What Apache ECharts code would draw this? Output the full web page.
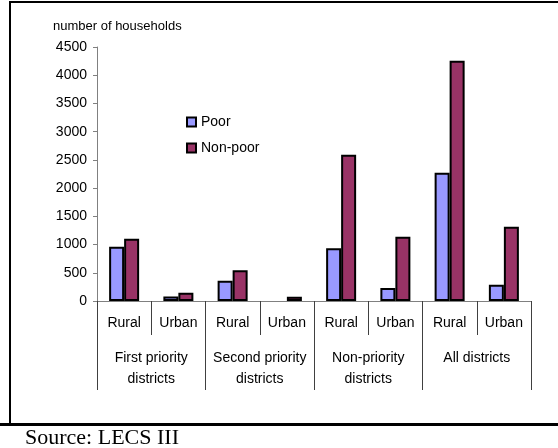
<!DOCTYPE html>
<html lang="en">
<head>
<meta charset="UTF-8">
<title>households</title>
<script src="https://cdn.jsdelivr.net/npm/echarts@6/dist/echarts.min.js"></script>
<style>
html,body{margin:0;padding:0;background:#fff;}
#chartBox{width:558px;height:448px;}
</style>
</head>
<body>
<div id="chartBox"></div>
<script>
// data
var areaLabels = ['Rural', 'Urban', 'Rural', 'Urban', 'Rural', 'Urban', 'Rural', 'Urban'];
var groupLabels = ['First priority\ndistricts', 'Second priority\ndistricts', 'Non-priority\ndistricts', 'All districts'];
var poorValues = [962, 80, 360, null, 934, 230, 2273, 289];
var nonPoorValues = [1104, 147, 544, 75, 2592, 1139, 4258, 1316];
var yTicks = [0, 4500, 500];

var FONT = 'Liberation Sans, Arial, sans-serif';

let chartObj = echarts.init(document.getElementById('chartBox'));

let option = {
    animation: false,
    grid: {left: 97, top: 47, right: 27, bottom: 147},
    legend: {
        orient: 'vertical',
        left: 181,
        top: 110,
        itemWidth: 9,
        itemHeight: 9,
        itemGap: 12,
        icon: 'rect',
        textStyle: {fontSize: 14, fontFamily: FONT, color: '#000'},
        data: ['Poor', 'Non-poor']
    },
    xAxis: [
        {
            type: 'category',
            data: areaLabels,
            axisLine: {lineStyle: {color: '#808080', width: 1}},
            axisTick: {show: true, interval: 0, length: 34, lineStyle: {color: '#404040'}},
            axisLabel: {interval: 0, margin: 15, fontSize: 14, fontFamily: FONT, color: '#000'}
        },
        {
            type: 'category',
            data: groupLabels,
            position: 'bottom',
            axisLine: {lineStyle: {color: '#808080', width: 1}},
            axisTick: {show: true, interval: 0, length: 89, lineStyle: {color: '#404040'}},
            axisLabel: {interval: 0, margin: 47, fontSize: 14, lineHeight: 21, fontFamily: FONT, color: '#000'}
        }
    ],
    yAxis: {
        type: 'value',
        min: yTicks[0],
        max: yTicks[1],
        interval: yTicks[2],
        splitLine: {show: false},
        axisLine: {show: true, lineStyle: {color: '#808080'}},
        axisTick: {show: true, length: 4, lineStyle: {color: '#808080'}},
        axisLabel: {
            margin: 10, fontSize: 14, fontFamily: FONT, color: '#000',
            formatter: function (v) { return String(v); }
        }
    },
    series: [
        {
            type: 'bar',
            name: 'Poor',
            xAxisIndex: 0,
            barWidth: 15,
            barGap: '0%',
            itemStyle: {color: '#9999FF', borderColor: '#000', borderWidth: 2},
            data: poorValues
        },
        {
            type: 'bar',
            name: 'Non-poor',
            xAxisIndex: 0,
            barWidth: 15,
            barGap: '0%',
            itemStyle: {color: '#993366', borderColor: '#000', borderWidth: 2},
            data: nonPoorValues
        }
    ],
    graphic: [
        // frame lines
        {type: 'rect', shape: {x: 9, y: 1, width: 549, height: 2}, style: {fill: '#000'}},
        {type: 'rect', shape: {x: 9, y: 1, width: 2, height: 424}, style: {fill: '#000'}},
        {type: 'rect', shape: {x: 0, y: 423, width: 558, height: 3}, style: {fill: '#000'}},
        // axis title
        {type: 'text', left: 53, top: 20, style: {text: 'number of households', font: '13px ' + FONT, fill: '#000'}},
        // source note
        {type: 'text', left: 25, top: 427, style: {text: 'Source: LECS III', font: '22px Liberation Serif, Times New Roman, serif', fill: '#000'}}
    ]
};

chartObj.setOption(option);
</script>
</body>
</html>
